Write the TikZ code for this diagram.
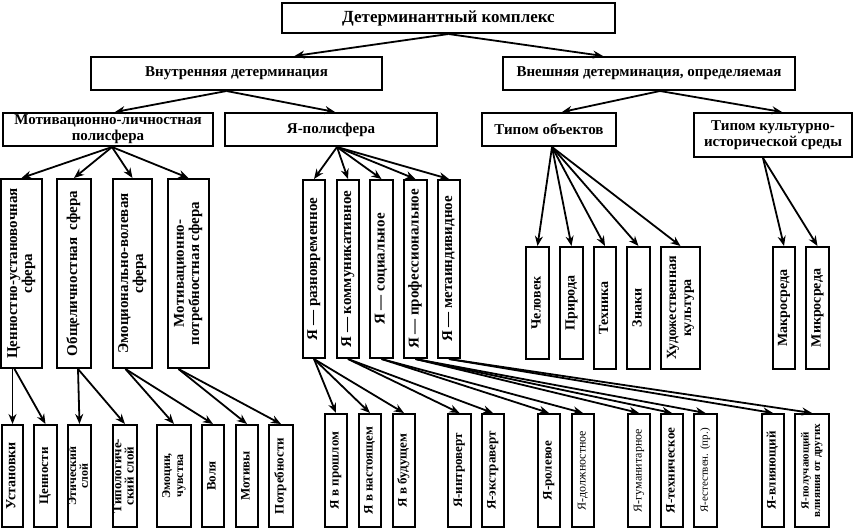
\documentclass[tikz,border=0pt]{standalone}
\usepackage{fontspec}
\setmainfont{Liberation Serif}
\usetikzlibrary{arrows.meta}

\newcommand{\vtxt}[1]{\rotatebox{90}{\begin{tabular}{@{}c@{}}#1\end{tabular}}}

\begin{document}
\begin{tikzpicture}[x=1pt,y=-1pt,
    box/.style={draw,line width=2pt,inner sep=0pt,align=center,
      font=\bfseries\fontsize{15}{16}\selectfont},
    vbox/.style={draw,line width=2pt,inner sep=0pt,
      font=\bfseries\fontsize{15}{15}\selectfont},
    sbox/.style={vbox,font=\bfseries\fontsize{13}{13}\selectfont},
    arr/.style={-{Stealth[length=10pt,width=8pt]},line width=1.8pt}]
        \useasboundingbox (0,0) rectangle (853,528);
        % top levels
        \node [box,minimum width=333,minimum height=30,font=\bfseries\fontsize{17}{19}\selectfont] (det) at (448.5,18) {Детерминантный комплекс};
        \node [box,minimum width=291,minimum height=33] (inner) at (236.5,73.5) {Внутренняя детерминация};
        \node [box,minimum width=292,minimum height=33] (outer) at (649,73.5) {Внешняя детерминация, определяемая};
        \node [box,minimum width=210,minimum height=33] (motiv) at (108,129.5) {Мотивационно-личностная\\полисфера};
        \node [box,minimum width=212,minimum height=33] (yapoly) at (331,129.5) {Я-полисфера};
        \node [box,minimum width=134,minimum height=33] (typobj) at (549,129.5) {Типом объектов};
        \node [box,minimum width=158,minimum height=44] (typcult) at (773,135) {Типом культурно-\\исторической среды};
        \draw [arr] (det.south) -- ([xshift=58]inner.north);
        \draw [arr] (det.south) -- ([xshift=-46]outer.north);
        \draw [arr] ([xshift=-10]inner.south) -- ([xshift=7]motiv.north);
        \draw [arr] ([xshift=-10]inner.south) -- ([xshift=4]yapoly.north);
        \draw [arr] ([xshift=11]outer.south) -- ([xshift=13]typobj.north);
        \draw [arr] ([xshift=11]outer.south) -- ([xshift=9]typcult.north);
        % spheres
        \node [vbox,minimum width=41,minimum height=189] (cenn) at (21.5,273.5) {\vtxt{Ценностно-установочная\\сфера}};
        \node [vbox,minimum width=34,minimum height=189] (obsh) at (74,273.5) {\vtxt{Общеличностная\ \ сфера}};
        \node [vbox,minimum width=39,minimum height=189] (emoc) at (132.5,273.5) {\vtxt{Эмоционально-волевая\\сфера}};
        \node [vbox,minimum width=41,minimum height=189] (motpot) at (188.5,273.5) {\vtxt{Мотивационно-\\потребностная сфера}};
        \foreach \t in {cenn,obsh,emoc,motpot}
          \draw [arr] ([xshift=4]motiv.south) -- (\t.north);
        % ja-polisphere
        \node [vbox,minimum width=22,minimum height=178] (ya1) at (314,269) {\vtxt{Я --- разновременное}};
        \node [vbox,minimum width=22,minimum height=178] (ya2) at (348,269) {\vtxt{Я --- коммуникативное}};
        \node [vbox,minimum width=23,minimum height=178] (ya3) at (381.5,269) {\vtxt{Я --- социальное}};
        \node [vbox,minimum width=23,minimum height=178] (ya4) at (415.5,269) {\vtxt{Я --- профессиональное}};
        \node [vbox,minimum width=22,minimum height=178] (ya5) at (449,269) {\vtxt{Я --- метаиндивидное}};
        \foreach \t in {ya1,ya2,ya3,ya4,ya5}
          \draw [arr] ([xshift=6]yapoly.south) -- (\t.north);
        % objects
        \node [sbox,minimum width=23,minimum height=112,font=\bfseries\fontsize{14}{15}\selectfont] (obj1) at (537.5,303) {\vtxt{Человек}};
        \node [sbox,minimum width=23,minimum height=112,font=\bfseries\fontsize{14}{15}\selectfont] (obj2) at (571.5,303) {\vtxt{Природа}};
        \node [sbox,minimum width=22,minimum height=122,font=\bfseries\fontsize{14}{15}\selectfont] (obj3) at (605,308) {\vtxt{Техника}};
        \node [sbox,minimum width=23,minimum height=122,font=\bfseries\fontsize{14}{15}\selectfont] (obj4) at (638.5,308) {\vtxt{Знаки}};
        \node [sbox,minimum width=39,minimum height=122,font=\bfseries\fontsize{14}{15}\selectfont] (obj5) at (680.5,308) {\vtxt{Художественная\\культура}};
        \foreach \t in {obj1,obj2,obj3,obj4,obj5}
          \draw [arr] ([xshift=3]typobj.south) -- (\t.north);
        \node [sbox,minimum width=22,minimum height=122,font=\bfseries\fontsize{14}{15}\selectfont] (cult1) at (784,308) {\vtxt{Макросреда}};
        \node [sbox,minimum width=23,minimum height=122,font=\bfseries\fontsize{14}{15}\selectfont] (cult2) at (817.5,308) {\vtxt{Микросреда}};
        \foreach \t in {cult1,cult2}
          \draw [arr] ([xshift=-10]typcult.south) -- (\t.north);
        % bottom row, left
        \node [sbox,minimum width=21,minimum height=102,font=\bfseries\fontsize{14}{14}\selectfont] (ust) at (12.5,476) {\vtxt{Установки}};
        \node [sbox,minimum width=23,minimum height=102] (cen) at (45.5,476) {\vtxt{Ценности}};
        \node [sbox,minimum width=23,minimum height=102,font=\bfseries\fontsize{12}{11}\selectfont] (eth) at (79.5,476) {\vtxt{Этический\\слой}};
        \node [sbox,minimum width=24,minimum height=102,font=\bfseries\fontsize{13}{11}\selectfont] (tip) at (125,476) {\vtxt{Типологиче-\\ский слой}};
        \node [sbox,minimum width=34,minimum height=102,font=\bfseries\fontsize{12}{13}\selectfont] (emo) at (174,476) {\vtxt{Эмоции,\\чувства}};
        \node [sbox,minimum width=22,minimum height=102] (vol) at (213,476) {\vtxt{Воля}};
        \node [sbox,minimum width=22,minimum height=102] (mot) at (247,476) {\vtxt{Мотивы}};
        \node [sbox,minimum width=24,minimum height=102] (potr) at (281,476) {\vtxt{Потребности}};
        \draw [arr] ([xshift=-9]cenn.south) -- (ust.north);
        \draw [arr] ([xshift=-7]cenn.south) -- (cen.north);
        \draw [arr] ([xshift=4]obsh.south) -- (eth.north);
        \draw [arr] ([xshift=4]obsh.south) -- (tip.north);
        \draw [arr] ([xshift=-7]emoc.south) -- (emo.north);
        \draw [arr] ([xshift=-7]emoc.south) -- (vol.north);
        \draw [arr] ([xshift=-10]motpot.south) -- (mot.north);
        \draw [arr] ([xshift=-10]motpot.south) -- (potr.north);
        % bottom row, ja
        \node [sbox,minimum width=22,minimum height=113] (r1) at (336,470.5) {\vtxt{Я в прошлом}};
        \node [sbox,minimum width=22,minimum height=113] (r2) at (370,470.5) {\vtxt{Я в настоящем}};
        \node [sbox,minimum width=22,minimum height=113] (r3) at (404,470.5) {\vtxt{Я в будущем}};
        \node [sbox,minimum width=23,minimum height=113] (r4) at (459.5,470.5) {\vtxt{Я-интроверт}};
        \node [sbox,minimum width=22,minimum height=113] (r5) at (493,470.5) {\vtxt{Я-экстраверт}};
        \node [sbox,minimum width=22,minimum height=113] (r6) at (549,470.5) {\vtxt{Я-ролевое}};
        \node [sbox,minimum width=22,minimum height=113,font=\fontsize{12}{13}\selectfont] (r7) at (583,470.5) {\vtxt{Я-должностное}};
        \node [sbox,minimum width=22,minimum height=113,font=\fontsize{12}{13}\selectfont] (r8) at (639,470.5) {\vtxt{Я-гуманитарное}};
        \node [sbox,minimum width=22,minimum height=113] (r9) at (672,470.5) {\vtxt{Я-техническое}};
        \node [sbox,minimum width=23,minimum height=113,font=\fontsize{11}{12}\selectfont] (r10) at (705.5,470.5) {\vtxt{Я-естествен. (пр.)}};
        \node [sbox,minimum width=22,minimum height=113] (r11) at (773,470.5) {\vtxt{Я-влияющий}};
        \node [sbox,minimum width=34,minimum height=113,font=\bfseries\fontsize{11}{11.5}\selectfont] (r12) at (812,470.5) {\vtxt{Я-получающий\\влияния от других}};
        \foreach \t in {r1,r2,r3}
          \draw [arr] (ya1.south) -- (\t.north);
        \foreach \t in {r4,r5}
          \draw [arr] (ya2.south) -- (\t.north);
        \foreach \t in {r6,r7}
          \draw [arr] (ya3.south) -- (\t.north);
        \foreach \t in {r8,r9,r10}
          \draw [arr] (ya4.south) -- (\t.north);
        \foreach \t in {r11,r12}
          \draw [arr] (ya5.south) -- (\t.north);
\end{tikzpicture}
\end{document}
